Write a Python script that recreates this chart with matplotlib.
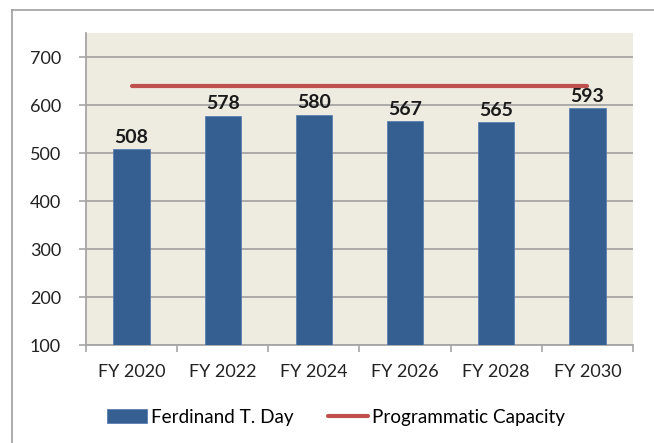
import matplotlib.pyplot as plt
from matplotlib.lines import Line2D

years = ['FY 2020', 'FY 2022', 'FY 2024', 'FY 2026', 'FY 2028', 'FY 2030']
ferdinand = [508, 578, 580, 567, 565, 593]
capacity = [640, 640, 640, 640, 640, 640]
yticks = [100, 200, 300, 400, 500, 600, 700]

plt.rcParams['font.family'] = ['Lato', 'DejaVu Sans']

fig = plt.figure(figsize=(6.54, 4.43), dpi=100)
ax = fig.add_axes([86 / 654, 1 - 345 / 443, 547 / 654, 312 / 443])
ax.set_facecolor('#EEEBE0')

x = list(range(len(years)))
bars = ax.bar(x, [v - 100 for v in ferdinand], bottom=100, width=0.4,
              color='#365F91', edgecolor='#5A7FB2', linewidth=0.6,
              label='Ferdinand T. Day', zorder=3)
line, = ax.plot(x, capacity, color='#C0504D', linewidth=3, solid_capstyle='round',
                label='Programmatic Capacity', zorder=4)

for xi, v in zip(x, ferdinand):
    ax.annotate(str(v), (xi, v), xytext=(0, 4.5), textcoords='offset points',
                ha='center', va='baseline', fontsize=14, fontweight='bold',
                color='#1a1a1a', zorder=5)

ax.set_xlim(-0.5, len(years) - 0.5)
ax.set_ylim(100, 750)
ax.set_yticks(yticks)
ax.set_xticks(x)
ax.set_xticklabels(years)
ax.set_xticks([i - 0.5 for i in range(len(years) + 1)], minor=True)
ax.tick_params(axis='x', which='major', length=0, pad=14, labelsize=13, colors='#222222')
ax.tick_params(axis='x', which='minor', length=5, width=1.2, color='#A6A6A6')
ax.tick_params(axis='y', which='major', length=5, width=1.2, color='#A6A6A6',
               pad=13, labelsize=13, labelcolor='#222222')
ax.grid(axis='y', color='#A6A6A6', linewidth=1.3, zorder=1)
ax.set_axisbelow(True)
for s in ['top', 'right']:
    ax.spines[s].set_visible(False)
for s in ['left', 'bottom']:
    ax.spines[s].set_color('#A6A6A6')
    ax.spines[s].set_linewidth(1.3)

ax.legend(handles=[bars, line], loc='center', bbox_to_anchor=(336 / 654, 1 - 417 / 443),
          bbox_transform=fig.transFigure, ncol=2, frameon=False, fontsize=13.6,
          handlelength=2.15, handletextpad=0.2, columnspacing=1.8,
          borderpad=0, borderaxespad=0)

# outer chart border (runs off the right and bottom of the image)
fig.add_artist(Line2D([11.5 / 654, 11.5 / 654], [1 - 10 / 443, -0.1],
                      transform=fig.transFigure, color='#A0A0A0', linewidth=1.2))
fig.add_artist(Line2D([11.5 / 654, 1.1], [1 - 10 / 443, 1 - 10 / 443],
                      transform=fig.transFigure, color='#A0A0A0', linewidth=1.2))

fig.savefig('out.png', dpi=100)
